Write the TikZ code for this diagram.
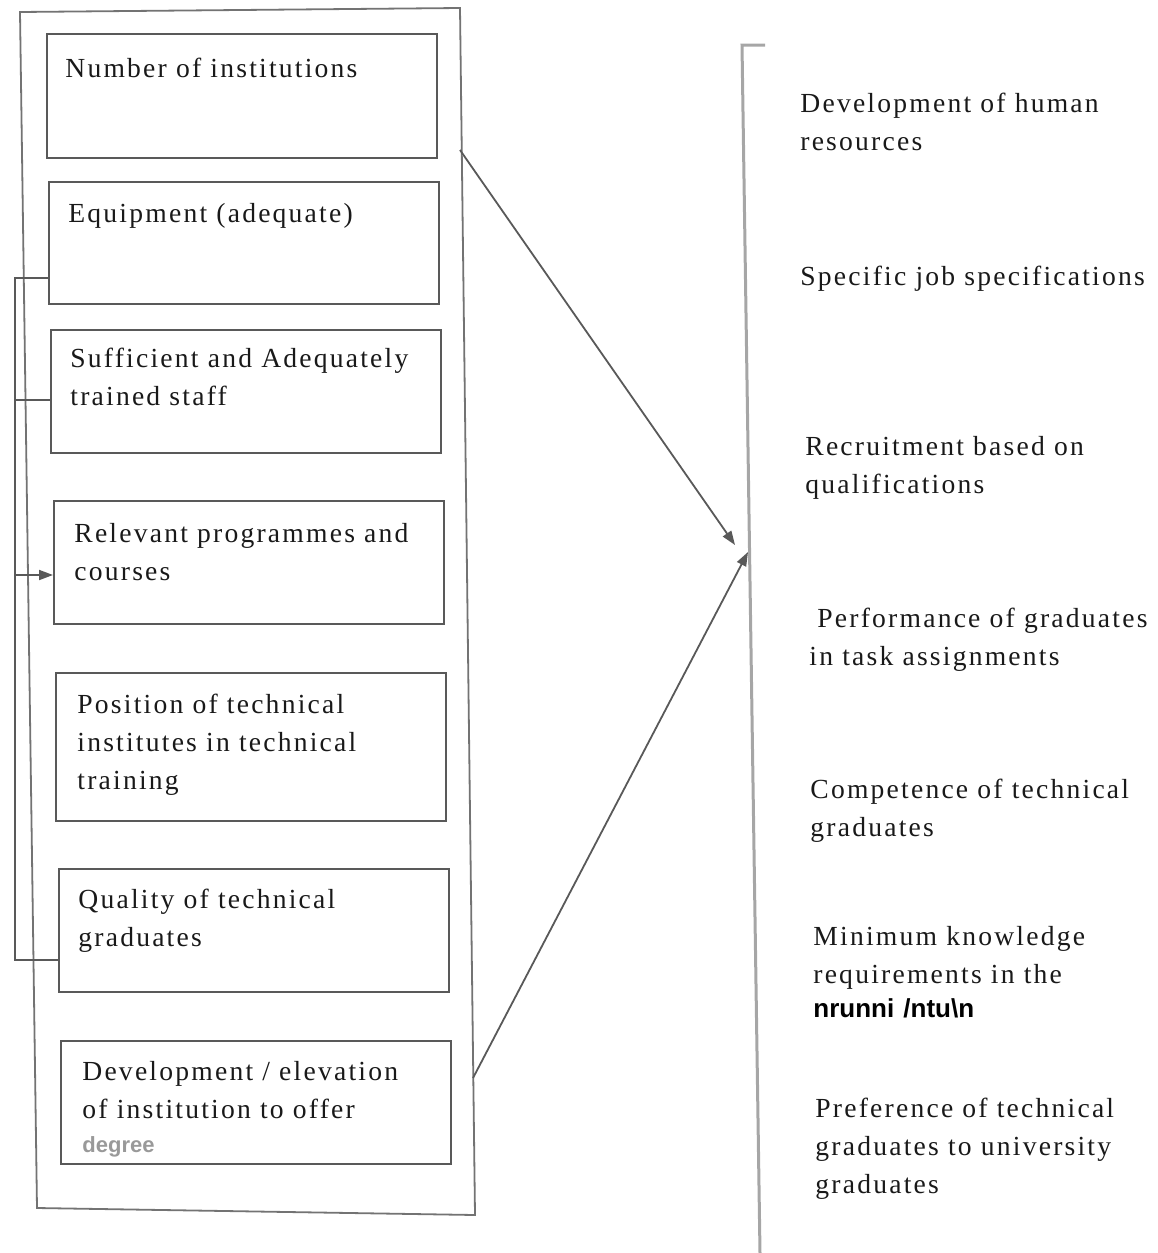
\documentclass[tikz,border=0pt]{standalone}
\usepackage{fontspec}
\usetikzlibrary{arrows.meta,calc}
\newfontfamily\itemfamily{Liberation Serif}[LetterSpace=8]
\newfontfamily\garblefamily{Liberation Sans}
\newcommand\itemfont{\itemfamily\fontsize{13.8}{19}\selectfont}

\begin{document}
\begin{tikzpicture}[x=0.5pt,y=-0.5pt,
    box/.style={draw=black!65, line width=1pt, anchor=north west, minimum width=195pt, inner sep=0},
    txt/.style={anchor=base west, text width=185pt, align=left, inner sep=0, font=\itemfont, text=black!90},
    link/.style={draw=black!65, line width=0.9pt},
    arr/.style={link, -{Triangle[length=7pt,width=5pt]}}]
    \useasboundingbox (0,0) rectangle (1157,1253);
    % outer frame of the left column
    \draw [black!55, line width=0.9pt] (20,12) -- (460,8) -- (475,1215) -- (37,1208) -- cycle;
    % boxes of the left column
    \node[box, minimum height=62pt] (num) at (46,33) {};
    \node[box, minimum height=61pt] (equip) at (48,181) {};
    \node[box, minimum height=61.5pt] (staff) at (50,329) {};
    \node[box, minimum height=61.5pt] (prog) at (53,500) {};
    \node[box, minimum height=74pt] (pos) at (55,672) {};
    \node[box, minimum height=61.5pt] (qual) at (58,868) {};
    \node[box, minimum height=61.5pt] (deg) at (60,1040) {};
    \node[txt] (numtxt) at (65,77) {Number of institutions};
    \node[txt] (equiptxt) at (68,222) {Equipment (adequate)};
    \node[txt] (stafftxt) at (70,367) {Sufficient and Adequately\\trained staff};
    \node[txt] (progtxt) at (74,542) {Relevant programmes and\\courses};
    \node[txt] (postxt) at (77,713) {Position of technical\\institutes in technical\\training};
    \node[txt] (qualtxt) at (78,908) {Quality of technical\\graduates};
    \node[txt] (degtxt) at (82,1080) {Development / elevation\\of institution to offer\\[-2pt]
        {\garblefamily\bfseries\fontsize{11}{19}\selectfont\color{black!40}degree}};
    % links on the left side
    \coordinate (jtop) at (15,278);
    \coordinate (jbot) at (15,960);
    \draw[link] (equip.west |- jtop) -- (jtop) -- (jbot) -- (qual.west |- jbot);
    \draw[link] (jtop |- 0,400) -- (staff.west |- 0,400);
    \draw[arr] (jtop |- 0,575) -- (prog.west |- 0,575);
    % right column
    \draw [black!35, line width=1.5pt] (765,45) -- (742,45) -- (760,1253);
    \node[txt] (hr) at (800,112) {Development of human\\resources};
    \node[txt] (job) at (800,285) {Specific job specifications};
    \node[txt] (rec) at (805,455) {Recruitment based on\\qualifications};
    \node[txt] (perf) at (809,627) {\hspace{4pt}Performance of graduates\\in task assignments};
    \node[txt] (comp) at (810,798) {Competence of technical\\graduates};
    \node[txt] (know) at (813,945) {Minimum knowledge\\requirements in the\\[-2pt]
        {\garblefamily\bfseries\fontsize{13}{19}\selectfont\color{black}nrunni /ntu\textbackslash n}};
    \node[txt] (pref) at (815,1117) {Preference of technical\\graduates to university\\graduates};
    % arrows to the right column
    \coordinate (out1) at (460,150);
    \coordinate (out2) at (473,1078);
    \coordinate (in1) at (735,545);
    \coordinate (in2) at (748,552);
    \draw[arr] (out1) -- (in1);
    \draw[arr] (out2) -- (in2);
\end{tikzpicture}
\end{document}
